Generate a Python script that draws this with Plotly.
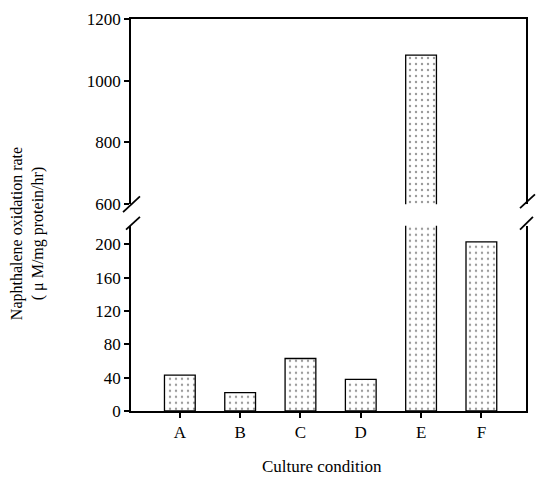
import plotly.graph_objects as go

categories = ["A", "B", "C", "D", "E", "F"]
rates = [43, 22, 63, 38, 1083, 203]
lower_ticks = [0, 40, 80, 120, 160, 200]
upper_ticks = [600, 800, 1000, 1200]

W, H = 538, 488
L, R, T, B = 131, 528, 11, 411

def px(x):
    return (x - L) / (R - L)

def py(y):
    return (B - y) / (B - T)

FONT = "Liberation Serif"
pattern = dict(shape=".", size=6, solidity=0.12, fgcolor="#333", bgcolor="white")

fig = go.Figure()
for ya in ["y", "y2"]:
    fig.add_trace(go.Bar(
        x=categories, y=rates, width=0.51, xaxis="x" if ya == "y" else "x2", yaxis=ya,
        marker=dict(color="white", line=dict(color="black", width=1.3), pattern=pattern),
        showlegend=False,
    ))

fig.update_layout(
    width=W, height=H,
    margin=dict(l=L, r=W - R, t=T, b=H - B),
    plot_bgcolor="white", paper_bgcolor="white",
    font=dict(family=FONT, size=17, color="black"),
    bargap=0.49,
    xaxis=dict(domain=[0, 1], anchor="y", range=[-0.81, 5.74], showline=True, linecolor="black",
               linewidth=2, ticks="outside", ticklen=5, tickwidth=1.5, tickcolor="black",
               showgrid=False, tickfont=dict(size=17, family=FONT)),
    xaxis2=dict(domain=[0, 1], anchor="y2", matches="x", range=[-0.81, 5.74], showline=True,
                linecolor="black", linewidth=1.5, side="top", ticks="", showticklabels=False,
                showgrid=False),
    yaxis=dict(domain=[0, py(222)], range=[0, (B - 222) / 0.85], tickvals=lower_ticks,
               showline=True, mirror=True, linecolor="black", linewidth=1.8, ticks="outside",
               ticklen=5, tickwidth=1.5, tickcolor="black", showgrid=False, zeroline=False,
               tickfont=dict(size=17, family=FONT)),
    yaxis2=dict(domain=[py(200), 1], range=[600, 1200], tickvals=upper_ticks, anchor="x2",
                showline=True, mirror=True, linecolor="black", linewidth=1.8, ticks="outside",
                ticklen=5, tickwidth=1.5, tickcolor="black", showgrid=False, zeroline=False,
                tickfont=dict(size=17, family=FONT)),
)

# axis break marks
slashes = [((123, 208), (140, 192)), ((126, 226), (140, 213)),
           ((522, 204), (537, 190)), ((522, 226), (535, 213))]
for (x0, y0), (x1, y1) in slashes:
    fig.add_shape(type="line", xref="paper", yref="paper",
                  x0=px(x0), y0=py(y0), x1=px(x1), y1=py(y1),
                  line=dict(color="black", width=1.8))

fig.add_annotation(xref="paper", yref="paper", x=px(27), y=py(230), showarrow=False,
                   textangle=-90, text="Naphthalene oxidation rate<br>( μ M/mg protein/hr)",
                   font=dict(size=16, family=FONT), xanchor="center", yanchor="middle")
fig.add_annotation(xref="paper", yref="paper", x=px(323), y=py(468), showarrow=False,
                   text="Culture condition", font=dict(size=17, family=FONT),
                   xanchor="center", yanchor="middle")

fig.write_html("out.html")
